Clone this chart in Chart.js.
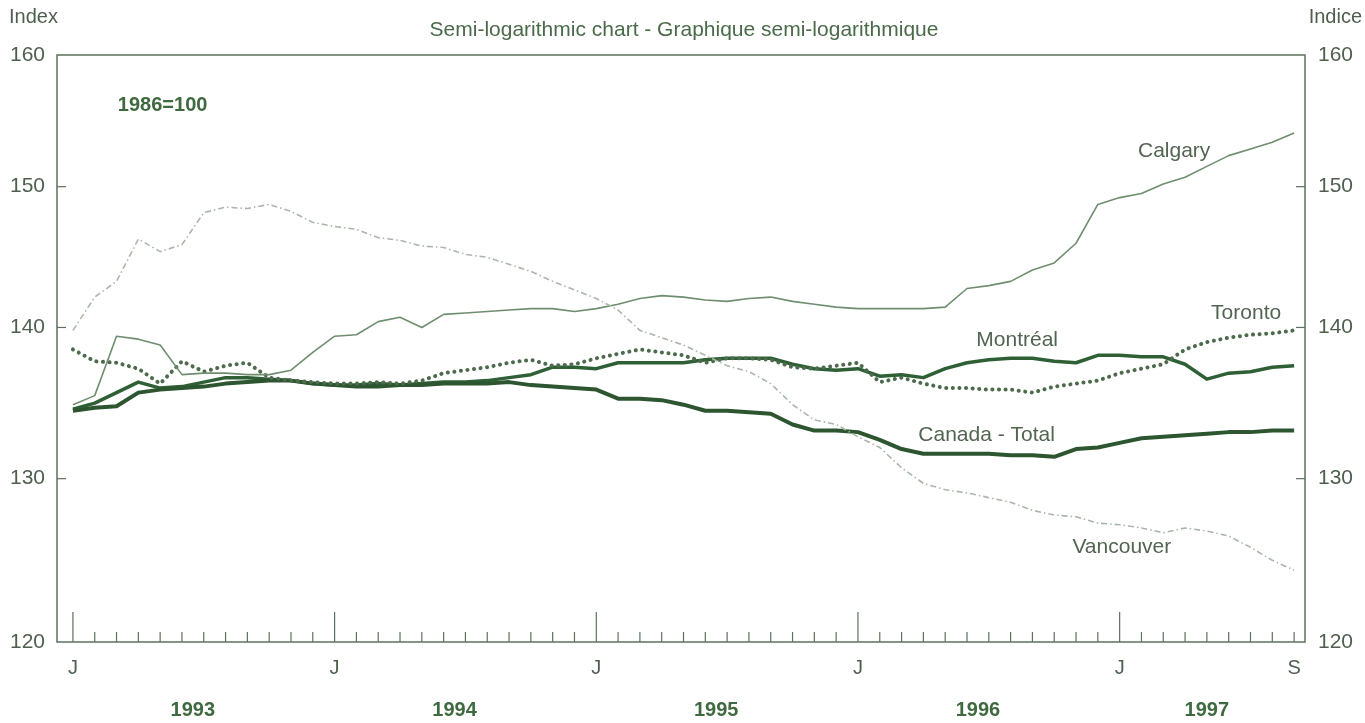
<!DOCTYPE html>
<html><head><meta charset="utf-8">
<script src="https://cdn.jsdelivr.net/npm/chart.js@4.4.1/dist/chart.umd.min.js"></script>
<style>html,body{margin:0;padding:0;background:#fff}canvas{display:block}</style>
</head><body>
<canvas id="c" width="1365" height="723"></canvas>
<script>
// ---- Data (Jan 1993 .. Sep 1997, monthly) ----
const monthLetters = ['J','F','M','A','M','J','J','A','S','O','N','D'];
const months = Array.from({length: 57}, (_, i) => monthLetters[i % 12]);
const years = ['1993', '1994', '1995', '1996', '1997'];
const xTickMonths = [0, 12, 24, 36, 48, 56];
const yTicks = [120, 130, 140, 150, 160];

const calgary = [134.8,135.4,139.4,139.2,138.8,136.8,136.9,136.9,136.8,136.8,
  137.1,138.3,139.4,139.5,140.4,140.7,140.0,140.9,141.0,141.1,
  141.2,141.3,141.3,141.1,141.3,141.6,142.0,142.2,142.1,141.9,
  141.8,142.0,142.1,141.8,141.6,141.4,141.3,141.3,141.3,141.3,
  141.4,142.7,142.9,143.2,144.0,144.5,145.9,148.7,149.2,149.5,
  150.2,150.7,151.5,152.3,152.8,153.3,154.0];
const vancouver = [139.8,142.1,143.2,146.2,145.3,145.8,148.1,148.5,148.4,148.7,
  148.2,147.4,147.1,146.9,146.3,146.1,145.7,145.6,145.1,144.9,
  144.4,143.9,143.2,142.6,142.0,141.2,139.8,139.3,138.8,138.1,
  137.4,137.0,136.2,134.8,133.8,133.5,132.7,132.0,130.7,129.7,
  129.3,129.1,128.8,128.5,128.0,127.7,127.6,127.2,127.1,126.9,
  126.6,126.9,126.7,126.4,125.7,124.9,124.3];
const toronto = [138.5,137.7,137.6,137.2,136.2,137.7,137.0,137.4,137.6,136.6,
  136.4,136.3,136.2,136.2,136.3,136.2,136.4,136.9,137.1,137.3,
  137.6,137.8,137.4,137.5,137.9,138.2,138.5,138.3,138.1,137.6,
  137.9,137.9,137.8,137.3,137.2,137.4,137.6,136.3,136.6,136.2,
  135.9,135.9,135.8,135.8,135.6,136.0,136.2,136.4,136.9,137.2,
  137.5,138.5,139.0,139.3,139.5,139.6,139.8];
const montreal = [134.5,134.9,135.6,136.3,135.9,136.0,136.3,136.6,136.6,136.5,
  136.4,136.2,136.1,136.1,136.2,136.1,136.2,136.3,136.3,136.4,
  136.6,136.8,137.3,137.3,137.2,137.6,137.6,137.6,137.6,137.8,
  137.9,137.9,137.9,137.5,137.2,137.1,137.2,136.7,136.8,136.6,
  137.2,137.6,137.8,137.9,137.9,137.7,137.6,138.1,138.1,138.0,
  138.0,137.5,136.5,136.9,137.0,137.3,137.4];
const canada = [134.4,134.6,134.7,135.6,135.8,135.9,136.0,136.2,136.3,136.4,
  136.4,136.2,136.1,136.0,136.0,136.1,136.1,136.2,136.2,136.2,
  136.3,136.1,136.0,135.9,135.8,135.2,135.2,135.1,134.8,134.4,
  134.4,134.3,134.2,133.5,133.1,133.1,133.0,132.5,131.9,131.6,
  131.6,131.6,131.6,131.5,131.5,131.4,131.9,132.0,132.3,132.6,
  132.7,132.8,132.9,133.0,133.0,133.1,133.1];

const seriesNames = ['Vancouver', 'Calgary', 'Toronto', 'Canada - Total', 'Montréal'];

// ---- helpers ----
const pts = arr => arr.map((v, i) => ({x: i, y: v}));
const FONT = '"Liberation Sans", Arial, Helvetica, sans-serif';
const TXT = '#4f5f4f';

// series labels placed in data space (month index, index value)
const seriesLabels = [
  {text: 'Calgary', x: 50.5, y: 152.6},
  {text: 'Toronto', x: 53.8, y: 141.0},
  {text: 'Montréal', x: 43.3, y: 139.1},
  {text: 'Canada - Total', x: 41.9, y: 132.8},
  {text: 'Vancouver', x: 48.1, y: 125.7}
];

const framePlugin = {
  id: 'frame',
  beforeDraw(chart) {
    const {ctx, width, height} = chart;
    ctx.save();
    ctx.fillStyle = '#ffffff';
    ctx.fillRect(0, 0, width, height);
    ctx.restore();
  },
  afterDatasetsDraw(chart) {
    const {ctx, chartArea: a, scales} = chart;
    const line = (x1, y1, x2, y2) => { ctx.beginPath(); ctx.moveTo(x1, y1); ctx.lineTo(x2, y2); ctx.stroke(); };
    ctx.save();
    ctx.strokeStyle = '#5e705e';
    ctx.lineWidth = 1.5;
    ctx.strokeRect(a.left, a.top, a.right - a.left, a.bottom - a.top);
    ctx.lineWidth = 1.2;
    yTicks.slice(1, -1).forEach(v => {
      const y = scales.y.getPixelForValue(v);
      line(a.left, y, a.left + 9, y);
      line(a.right - 9, y, a.right, y);
    });
    months.forEach((m, i) => {
      const x = scales.x.getPixelForValue(i);
      line(x, a.bottom, x, a.bottom - (i % 12 === 0 ? 30 : 10));
    });
    // texts
    ctx.textBaseline = 'middle';
    ctx.font = '21px ' + FONT;
    ctx.textAlign = 'center';
    ctx.fillStyle = '#4a6a4a';
    ctx.fillText('Semi-logarithmic chart - Graphique semi-logarithmique', 684, 30);
    ctx.fillStyle = TXT;
    ctx.font = '20px ' + FONT;
    ctx.textAlign = 'left';
    ctx.fillText('Index', 9, 17);
    ctx.textAlign = 'right';
    ctx.fillText('Indice', 1362, 17);
    ctx.font = 'bold 20px ' + FONT;
    ctx.textAlign = 'left';
    ctx.fillStyle = '#3f6a3f';
    ctx.fillText('1986=100', scales.x.getPixelForValue(2.06), scales.y.getPixelForValue(156.1));
    ctx.font = '21px ' + FONT;
    ctx.textAlign = 'center';
    ctx.fillStyle = '#526452';
    seriesLabels.forEach(l => ctx.fillText(l.text, scales.x.getPixelForValue(l.x), scales.y.getPixelForValue(l.y)));
    ctx.restore();
  }
};

const yAxis = (pos, width, pad) => ({
  type: 'logarithmic', position: pos, min: 120, max: 160,
  afterBuildTicks: s => { s.ticks = yTicks.map(v => ({value: v})); },
  afterFit: s => { s.width = width; },
  grid: {display: false, drawTicks: false}, border: {display: false},
  ticks: {autoSkip: false, padding: pad, color: TXT, font: {family: FONT, size: 21},
    callback: v => String(v)}
});

new Chart(document.getElementById('c'), {
  type: 'line',
  data: {
    datasets: [
      {label: seriesNames[0], data: pts(vancouver), borderColor: '#aab6aa', borderWidth: 1.6, borderDash: [6, 3, 1.5, 3]},
      {label: seriesNames[1], data: pts(calgary), borderColor: '#6f8e6f', borderWidth: 1.6},
      {label: seriesNames[2], data: pts(toronto), borderColor: '#4d6a4d', borderWidth: 4, borderDash: [0.1, 6.5], borderCapStyle: 'round'},
      {label: seriesNames[3], data: pts(canada), borderColor: '#2c5530', borderWidth: 4},
      {label: seriesNames[4], data: pts(montreal), borderColor: '#2f6035', borderWidth: 3.5}
    ]
  },
  options: {
    responsive: false, animation: false, devicePixelRatio: 1,
    layout: {padding: {top: 55, left: 0, right: 0, bottom: 0}},
    elements: {point: {radius: 0}, line: {tension: 0, borderJoinStyle: 'round'}},
    plugins: {legend: {display: false}, tooltip: {enabled: false}, title: {display: false}},
    scales: {
      x: {
        type: 'linear', position: 'bottom', min: -0.73, max: 56.5, weight: 0,
        afterBuildTicks: s => { s.ticks = xTickMonths.map(v => ({value: v})); },
        afterFit: s => { s.height = 40; },
        grid: {display: false, drawTicks: false}, border: {display: false},
        ticks: {autoSkip: false, maxRotation: 0, padding: 14, color: TXT, font: {family: FONT, size: 20},
          callback: v => months[v]}
      },
      xYear: {
        type: 'linear', position: 'bottom', min: -0.73, max: 56.5, weight: 1,
        afterBuildTicks: s => {
          s.ticks = years.map((y, k) => ({value: (k * 12 + Math.min(k * 12 + 11, months.length - 1)) / 2}));
        },
        afterFit: s => { s.height = 41; },
        grid: {display: false, drawTicks: false}, border: {display: false},
        ticks: {autoSkip: false, maxRotation: 0, padding: 16, color: '#3f6a3f', font: {family: FONT, size: 20, weight: 'bold'},
          callback: (v, idx) => years[idx]}
      },
      y: yAxis('left', 57, 12),
      y2: yAxis('right', 60, 13)
    }
  },
  plugins: [framePlugin]
});
</script>
</body></html>
